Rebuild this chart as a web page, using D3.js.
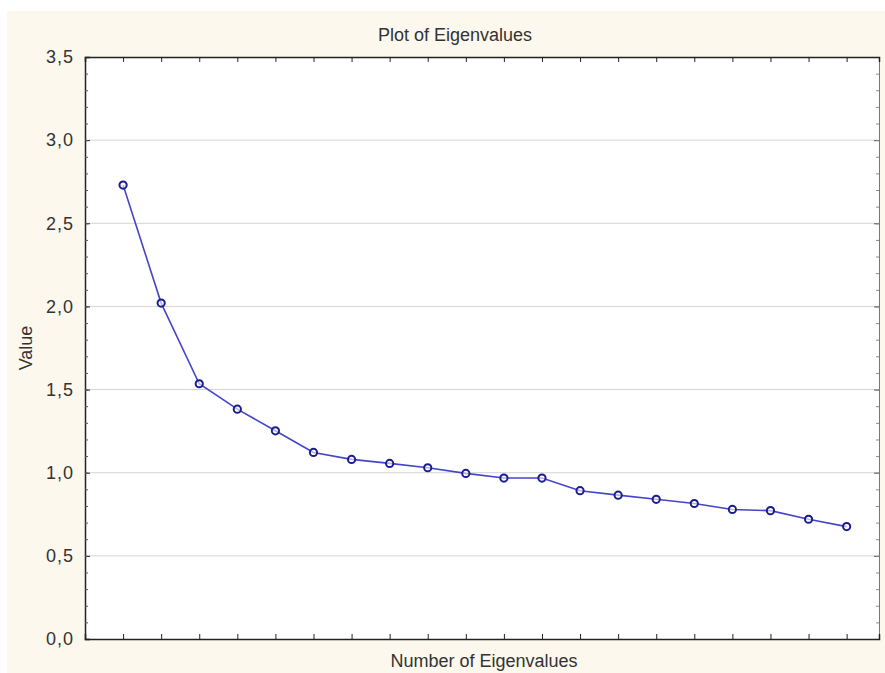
<!DOCTYPE html>
<html><head><meta charset="utf-8">
<script src="https://cdn.jsdelivr.net/npm/d3@7"></script>
<style>html,body{margin:0;padding:0;background:#fff;}svg{display:block;}</style>
</head><body>
<script>
const titleText = "Plot of Eigenvalues";
const xLabel = "Number of Eigenvalues";
const yLabel = "Value";
const eigenNumbers = [1,2,3,4,5,6,7,8,9,10,11,12,13,14,15,16,17,18,19,20];
const eigenValues = [2.73,2.02,1.535,1.382,1.252,1.122,1.08,1.056,1.03,0.996,0.968,0.968,0.892,0.865,0.84,0.815,0.779,0.772,0.72,0.676];
const yMajorTicks = [0,0.5,1.0,1.5,2.0,2.5,3.0,3.5];
const yMinorTicks = d3.range(0,36).map(d=>d/10);

const W=885,H=673;
const plot={l:85,t:57,r:879,b:639};
const svg=d3.select("body").append("svg").attr("width",W).attr("height",H);
svg.append("rect").attr("x",7).attr("y",11).attr("width",W-7).attr("height",H-11).attr("fill","#fcf8ee");
svg.append("rect").attr("x",plot.l).attr("y",plot.t).attr("width",plot.r-plot.l).attr("height",plot.b-plot.t).attr("fill","#ffffff");

const x=d3.scaleLinear().domain([0,20.85]).range([plot.l,plot.r]);
const y=d3.scaleLinear().domain([0,3.5]).range([plot.b,plot.t]);
const font="'Liberation Sans', Arial, sans-serif";

// gridlines
svg.append("g").selectAll("line").data(yMajorTicks.filter(d=>d>0&&d<3.5)).join("line")
  .attr("x1",plot.l).attr("x2",plot.r).attr("y1",d=>y(d)).attr("y2",d=>y(d))
  .attr("stroke","#d4d4d4").attr("stroke-width",1);

// left axis
const fmt=d=>d3.format(".1f")(d).replace(".",",");
const gl=svg.append("g").attr("transform",`translate(${plot.l},0)`)
  .call(d3.axisLeft(y).tickValues(yMajorTicks).tickSize(-5).tickPadding(11).tickFormat(fmt));
gl.select(".domain").attr("stroke","#222").attr("stroke-width",1.5);
gl.selectAll(".tick line").attr("stroke","#222");
gl.selectAll(".tick text").attr("font-family",font).attr("font-size",18).attr("fill","#333").attr("letter-spacing","1px");
svg.append("g").attr("transform",`translate(${plot.l},0)`)
  .call(d3.axisLeft(y).tickValues(yMinorTicks).tickSize(-3).tickFormat(""))
  .call(g=>{g.select(".domain").remove();g.selectAll("line").attr("stroke","#555");});

// right axis
const gr=svg.append("g").attr("transform",`translate(${plot.r},0)`)
  .call(d3.axisRight(y).tickValues(yMajorTicks).tickSize(-5).tickFormat(""));
gr.select(".domain").attr("stroke","#777");
gr.selectAll("line").attr("stroke","#555");
svg.append("g").attr("transform",`translate(${plot.r},0)`)
  .call(d3.axisRight(y).tickValues(yMinorTicks).tickSize(-3).tickFormat(""))
  .call(g=>{g.select(".domain").remove();g.selectAll("line").attr("stroke","#888");});

// bottom axis
const gb=svg.append("g").attr("transform",`translate(0,${plot.b})`)
  .call(d3.axisBottom(x).tickValues(eigenNumbers).tickSize(-5).tickFormat(""));
gb.select(".domain").attr("stroke","#222").attr("stroke-width",1.5);
gb.selectAll("line").attr("stroke","#222");
// top axis
const gt=svg.append("g").attr("transform",`translate(0,${plot.t})`)
  .call(d3.axisTop(x).tickValues(eigenNumbers).tickSize(-5).tickFormat(""));
gt.select(".domain").attr("stroke","#222").attr("stroke-width",1.5);
gt.selectAll("line").attr("stroke","#222");

// line
const pts=eigenNumbers.map((n,i)=>[n,eigenValues[i]]);
svg.append("path").datum(pts)
  .attr("d",d3.line().x(d=>x(d[0])).y(d=>y(d[1])))
  .attr("fill","none").attr("stroke","#4444cc").attr("stroke-width",1.6);
svg.append("g").selectAll("circle").data(pts).join("circle")
  .attr("cx",d=>x(d[0])).attr("cy",d=>y(d[1])).attr("r",3.6)
  .attr("fill","#ffffff").attr("fill-opacity",0.6).attr("stroke","#1c1c8c").attr("stroke-width",2);

// texts
svg.append("text").attr("x",455).attr("y",41).attr("text-anchor","middle")
  .attr("font-family",font).attr("font-size",18).attr("fill","#333").text(titleText);
svg.append("text").attr("x",484).attr("y",667).attr("text-anchor","middle")
  .attr("font-family",font).attr("font-size",18).attr("fill","#333").text(xLabel);
svg.append("text").attr("transform",`translate(32,${(plot.t+plot.b)/2}) rotate(-90)`).attr("text-anchor","middle")
  .attr("font-family",font).attr("font-size",18).attr("fill","#333").text(yLabel);
</script>
</body></html>
